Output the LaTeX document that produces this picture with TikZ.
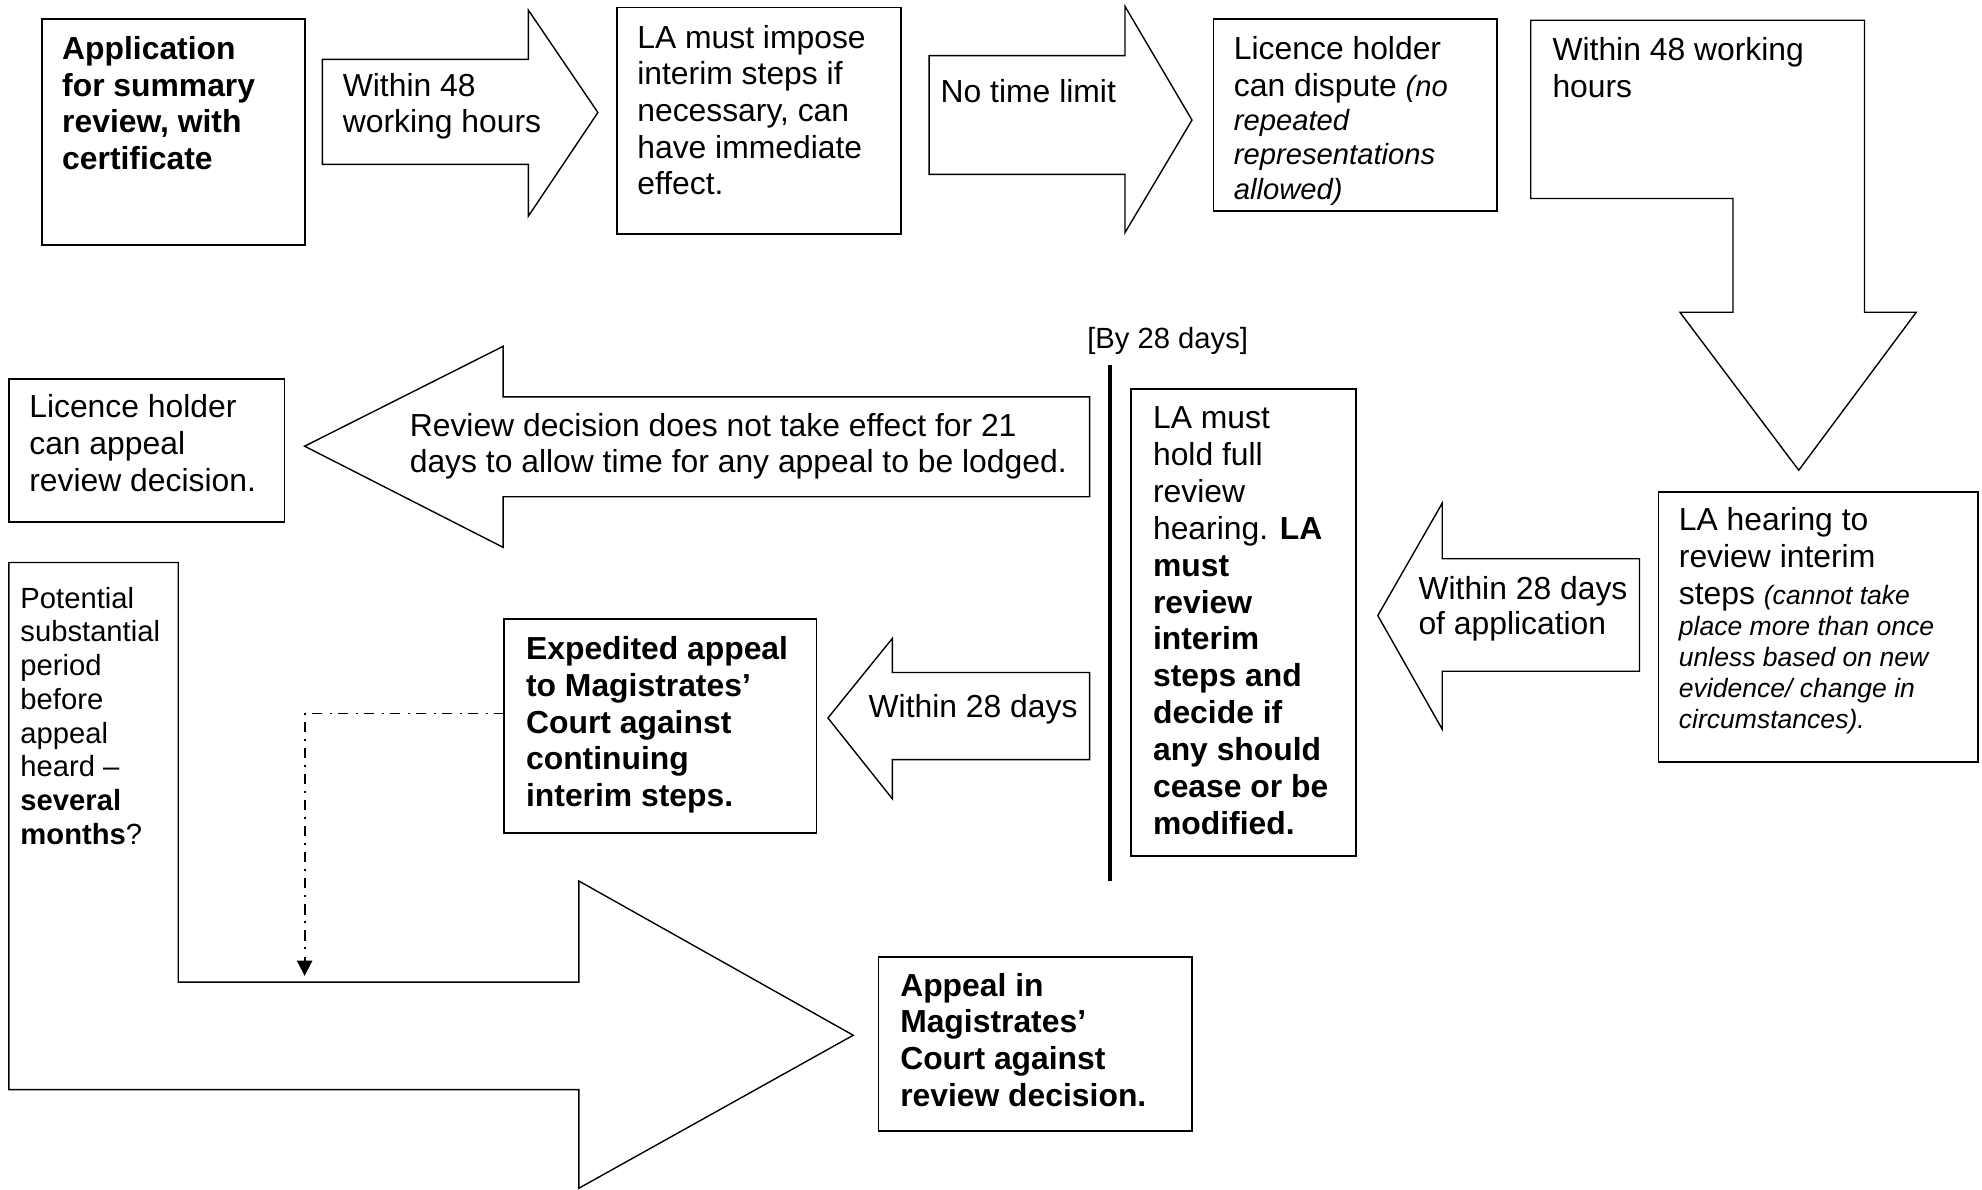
\documentclass[tikz,border=0pt]{standalone}
\usepackage{fontspec}
\setmainfont{Liberation Sans}
\usetikzlibrary{arrows.meta}
\newcommand\tl[1]{\hbox{#1}}
\newcommand\blk[2]{\vtop{\lineskiplimit=-100pt\lineskip=0pt\baselineskip=#1\relax #2}}
\newcommand\fsmall{\fontsize{23.1}{27}\selectfont}
\newcommand\ftiny{\fontsize{21}{24.5}\selectfont}
\begin{document}
\begin{tikzpicture}[x=1pt,y=-1pt,
  box/.style={draw, line width=1.4pt, inner sep=0pt, outer sep=0pt, anchor=north west},
  barrow/.style={draw, line width=1.1pt, line join=miter, fill=white},
  txt/.style={inner sep=0pt, anchor=base west, font=\fontsize{25.2}{29}\selectfont},
  stxt/.style={inner sep=0pt, anchor=base west, font=\fsmall},
  dashdot/.style={line width=1.4pt, dash pattern=on 8pt off 5pt on 1.6pt off 6pt}]
\fill[white] (0,0) rectangle (1568,941);
\useasboundingbox (0,0) rectangle (1568,941);

% block arrows
\draw[barrow] (255,47) -- (418,47) -- (418,8) -- (473,89) -- (418,171) -- (418,130) -- (255,130) -- cycle;
\draw[barrow] (735,44) -- (890,44) -- (890,5) -- (943,95) -- (890,184) -- (890,138) -- (735,138) -- cycle;
\draw[barrow] (1211,16) -- (1475,16) -- (1475,247) -- (1516,247) -- (1423,372) -- (1329,247) -- (1371,247) -- (1371,157) -- (1211,157) -- cycle;
\draw[barrow] (1297,442) -- (1141,442) -- (1141,398) -- (1090,487) -- (1141,577) -- (1141,531) -- (1297,531) -- cycle;
\draw[barrow] (862,314) -- (398,314) -- (398,274) -- (241,353) -- (398,433) -- (398,393) -- (862,393) -- cycle;
\draw[barrow] (862,532) -- (706,532) -- (706,505) -- (655,568) -- (706,632) -- (706,601) -- (862,601) -- cycle;
\draw[barrow] (7,445) -- (141,445) -- (141,777) -- (458,777) -- (458,697) -- (675,819) -- (458,940) -- (458,862) -- (7,862) -- cycle;

% boxes
\node[box, minimum width=208pt, minimum height=179pt] (A) at (33,15) {};
\node[box, minimum width=225pt, minimum height=179pt] (B) at (488,6) {};
\node[box, minimum width=224pt, minimum height=152pt] (C) at (960,15) {};
\node[box, minimum width=253pt, minimum height=214pt] (D) at (1312,389) {};
\node[box, minimum width=178pt, minimum height=369pt] (E) at (895,308) {};
\node[box, minimum width=218pt, minimum height=113pt] (F) at (7,300) {};
\node[box, minimum width=247pt, minimum height=169pt] (H) at (399,490) {};
\node[box, minimum width=248pt, minimum height=138pt] (I) at (695,757) {};

% texts
\node[txt] (tA) at (49,47) {\blk{29pt}{\bfseries\tl{Application}\tl{for summary}\tl{review, with}\tl{certificate}}};
\node[txt] (t1) at (271,76) {\blk{29pt}{\tl{Within 48}\tl{working hours}}};
\node[txt] (tB) at (504,38) {\blk{29pt}{\tl{LA must impose}\tl{interim steps if}\tl{necessary, can}\tl{have immediate}\tl{effect.}}};
\node[txt] (t2) at (744,81) {No time limit};
\node[txt] (tC) at (976,47) {\blk{29pt}{\tl{Licence holder}\tl{can dispute {\fsmall\itshape (no}}\baselineskip=27.5pt\tl{\fsmall\itshape repeated}\baselineskip=27pt\tl{\fsmall\itshape representations}\tl{\fsmall\itshape allowed)}}};
\node[txt] (t3) at (1228,48) {\blk{29pt}{\tl{Within 48 working}\tl{hours}}};
\node[txt] (tD) at (1328,420) {\blk{29pt}{\tl{LA hearing to}\tl{review interim}\baselineskip=29.5pt\tl{steps {\ftiny\itshape (cannot take}}\baselineskip=24.5pt\tl{\ftiny\itshape place more than once}\tl{\ftiny\itshape unless based on new}\tl{\ftiny\itshape evidence/ change in}\tl{\ftiny\itshape circumstances).}}};
\node[txt] (t4) at (1122,474) {\blk{28pt}{\tl{Within 28 days}\tl{of application}}};
\node[txt] (tE) at (912,339) {\blk{29.2pt}{\tl{LA must}\tl{hold full}\tl{review}\tl{hearing. \bfseries LA}\bfseries\tl{must}\tl{review}\tl{interim}\tl{steps and}\tl{decide if}\tl{any should}\tl{cease or be}\tl{modified.}}};
\node[stxt] (tBy) at (860,276) {[By 28 days]};
\node[txt] (t5) at (324,345) {\blk{29pt}{\tl{Review decision does not take effect for 21}\tl{days to allow time for any appeal to be lodged.}}};
\node[txt] (tF) at (23,330) {\blk{29.5pt}{\tl{Licence holder}\tl{can appeal}\tl{review decision.}}};
\node[stxt] (tG) at (16,481) {\blk{26.7pt}{\tl{Potential}\tl{substantial}\tl{period}\tl{before}\tl{appeal}\tl{heard –}\tl{\bfseries several}\tl{\textbf{months}?}}};
\node[txt] (tH) at (416,522) {\blk{29pt}{\bfseries\tl{Expedited appeal}\tl{to Magistrates’}\tl{Court against}\tl{continuing}\tl{interim steps.}}};
\node[txt] (t6) at (687,568) {Within 28 days};
\node[txt] (tI) at (712,788) {\blk{29pt}{\bfseries\tl{Appeal in}\tl{Magistrates’}\tl{Court against}\tl{review decision.}}};

% deadline bar
\coordinate (bartop) at (878,289);
\coordinate (barbot) at (878,697);
\draw[line width=2.7pt] (bartop) -- (barbot);

% dash-dot connector
\coordinate (dend) at (241,772);
\draw[dashdot, -{Triangle[length=12pt,width=12pt]}] ([yshift=10pt]H.west) -| (dend);
\end{tikzpicture}
\end{document}
